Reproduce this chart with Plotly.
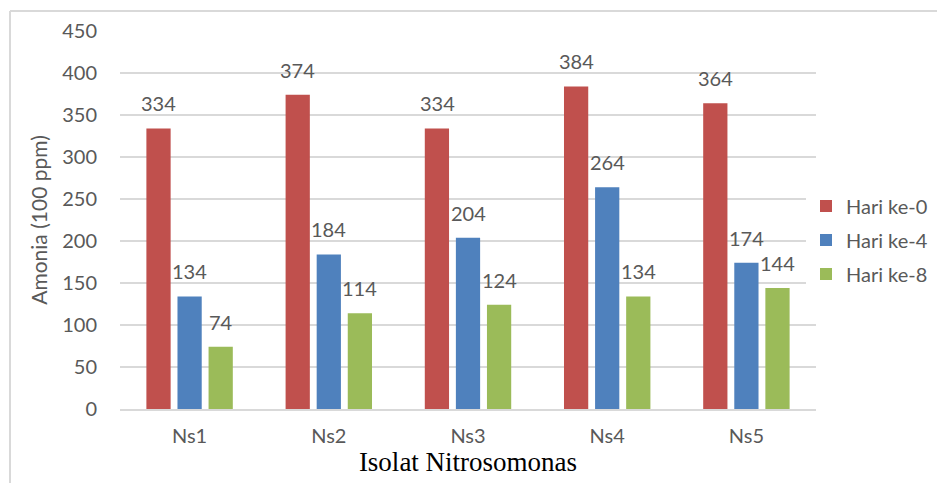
import plotly.graph_objects as go

categories = ["Ns1", "Ns2", "Ns3", "Ns4", "Ns5"]
hari_0 = [334, 374, 334, 384, 364]
hari_4 = [134, 184, 204, 264, 174]
hari_8 = [74, 114, 124, 134, 144]
series_names = ["Hari ke-0", "Hari ke-4", "Hari ke-8"]
colors = ["#C0504D", "#4F81BD", "#9BBB59"]
y_ticks = [0, 50, 100, 150, 200, 250, 300, 350, 400, 450]

W, H = 937, 483
L, R, T, B = 120, 121, 31, 74
text_color = "#595959"
font_main = "Lato, Carlito, Calibri, sans-serif"
fs = 20

fig = go.Figure()
for name, vals, col in zip(series_names, [hari_0, hari_4, hari_8], colors):
    fig.add_trace(go.Bar(
        name=name, x=categories, y=vals, marker_color=col,
        marker_line_width=0, legendgroup=name,
    ))

# value labels above each bar
offsets = [-31, 0, 31]
for vals, dx in zip([hari_0, hari_4, hari_8], offsets):
    for c, v in zip(categories, vals):
        fig.add_annotation(
            x=c, y=v, text=str(v), showarrow=False, xshift=dx, yshift=11,
            yanchor="bottom", font=dict(size=fs, color=text_color, family=font_main),
        )

pw, ph = W - L - R, H - T - B
def px(x):
    return (x - L) / pw
def py(y):
    return (H - B - y) / ph

# light outer frame
fig.add_shape(type="line", xref="paper", yref="paper",
              x0=px(10), y0=py(11), x1=px(940), y1=py(11),
              line=dict(color="#D9D9D9", width=2))
fig.add_shape(type="line", xref="paper", yref="paper",
              x0=px(10), y0=py(11), x1=px(10), y1=py(490),
              line=dict(color="#D9D9D9", width=2))

fig.update_layout(
    width=W, height=H,
    margin=dict(l=L, r=R, t=T, b=B, autoexpand=False),
    paper_bgcolor="white", plot_bgcolor="white",
    barmode="group", bargap=0.33, bargroupgap=0.22,
    font=dict(family=font_main, size=fs, color=text_color),
    legend=dict(
        x=px(806), xanchor="left", y=py(240), yanchor="middle",
        traceorder="grouped", tracegroupgap=5,
        font=dict(size=fs, color=text_color, family=font_main),
        itemwidth=30,
    ),
    xaxis=dict(
        showgrid=False, showline=True, linecolor="#D9D9D9", linewidth=1.5,
        ticks="", tickfont=dict(size=fs, color=text_color), ticklabelstandoff=8,
        title=dict(text="Isolat Nitrosomonas", standoff=6,
                   font=dict(family="Liberation Serif, Times New Roman, serif", size=27, color="#000000")),
    ),
    yaxis=dict(
        range=[0, 450], tickvals=y_ticks, showgrid=True, gridcolor="#D9D9D9", gridwidth=1.5,
        zeroline=False, ticks="", ticklabelstandoff=22,
        tickfont=dict(size=fs, color=text_color),
        title=dict(text="Amonia (100 ppm)", standoff=8,
                   font=dict(size=21, color=text_color)),
    ),
)

fig.write_html("out.html")
